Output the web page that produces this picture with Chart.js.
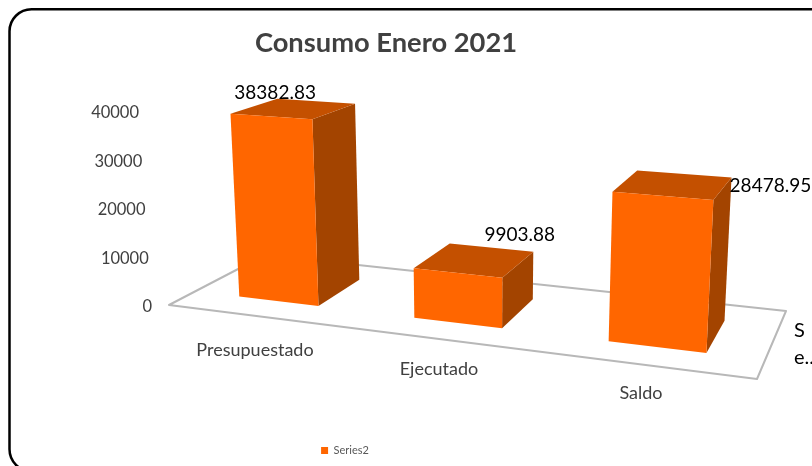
<!DOCTYPE html>
<html>
<head>
<meta charset="utf-8">
<script src="https://cdn.jsdelivr.net/npm/chart.js@4"></script>
<style>
    html, body { margin: 0; padding: 0; background: #fff; overflow: hidden; }
    #box { position: relative; width: 812px; height: 466px; }
</style>
</head>
<body>
<div id="box"><canvas id="chart"></canvas></div>
<script>
const categories = ['Presupuestado', 'Ejecutado', 'Saldo'];
const values = [38382.83, 9903.88, 28478.95];
const seriesName = 'Series2';
const yTicks = [0, 10000, 20000, 30000, 40000];
const depthLabel = ['S', 'e..'];

// Floor corners as seen in the picture, and depth range of the bars on it
const floor = { fl: [169, 305], fr: [757, 379], br: [786, 311], bl: [265, 255] };
const barDepth = [0.25, 0.74];

// Perspective mapping of the floor (unit square to quad)
function floorMap(u, d) {
    const { fl, fr, br, bl } = floor;
    const dx1 = fr[0] - br[0], dx2 = bl[0] - br[0], sx = fl[0] - fr[0] + br[0] - bl[0];
    const dy1 = fr[1] - br[1], dy2 = bl[1] - br[1], sy = fl[1] - fr[1] + br[1] - bl[1];
    const det = dx1 * dy2 - dx2 * dy1;
    const g = (sx * dy2 - dx2 * sy) / det;
    const h = (dx1 * sy - sx * dy1) / det;
    const w = g * u + h * d + 1;
    return [
        ((fr[0] - fl[0] + g * fr[0]) * u + (bl[0] - fl[0] + h * bl[0]) * d + fl[0]) / w,
        ((fr[1] - fl[1] + g * fr[1]) * u + (bl[1] - fl[1] + h * bl[1]) * d + fl[1]) / w
    ];
}

// Point at floor position (u, d), raised by h pixels of the value axis
function project(u, d, h) {
    const [fx, fy] = floorMap(u, d);
    const s = 1 + (fy - 305) * 0.0022;
    return [fx + (fx - 480) * h * s * 0.0002, fy - h * s];
}

function poly(ctx, pts, color) {
    ctx.beginPath();
    pts.forEach((p, i) => i ? ctx.lineTo(p[0], p[1]) : ctx.moveTo(p[0], p[1]));
    ctx.closePath();
    ctx.fillStyle = color;
    ctx.fill();
}

const valueShift = [[-19, -16], [45, -25], [97, 1]];
const categorySpot = [[255, 350], [439, 369], [641, 393]];

const bars3d = {
    id: 'bars3d',
    afterLayout(chart) {
        // legend sits left of the plot centre
        chart.legend.left -= 41;
        chart.legend.right -= 41;
    },
    beforeDraw(chart) {
        const ctx = chart.ctx;
        ctx.save();
        ctx.lineWidth = 2.5;
        ctx.strokeStyle = '#000';
        ctx.beginPath();
        ctx.roundRect(9.5, 9.3, 840, 462, 22);
        ctx.stroke();
        ctx.restore();
    },
    beforeDatasetsDraw(chart) {
        const ctx = chart.ctx;
        const area = chart.chartArea;
        const yScale = chart.scales.y;
        const zero = yScale.getPixelForValue(0);
        const { fl, fr, br, bl } = floor;

        ctx.save();
        ctx.strokeStyle = '#b8b8b8';
        ctx.lineWidth = 2;
        ctx.lineJoin = 'round';
        ctx.beginPath();
        ctx.moveTo(bl[0], bl[1]);
        ctx.lineTo(fl[0], fl[1]);
        ctx.lineTo(fr[0], fr[1]);
        ctx.lineTo(br[0], br[1]);
        ctx.lineTo(bl[0], bl[1]);
        ctx.stroke();

        ctx.textAlign = 'center';
        ctx.textBaseline = 'middle';
        const bars = chart.getDatasetMeta(0).data;
        bars.forEach((bar, i) => {
            const u0 = (bar.x - bar.width / 2 - area.left) / area.width;
            const u1 = (bar.x + bar.width / 2 - area.left) / area.width;
            const h = zero - bar.y;
            const [d0, d1] = barDepth;
            poly(ctx, [project(u1, d0, 0), project(u1, d1, 0), project(u1, d1, h), project(u1, d0, h)], '#a34400');
            poly(ctx, [project(u0, d0, h), project(u1, d0, h), project(u1, d1, h), project(u0, d1, h)], '#c45000');
            poly(ctx, [project(u0, d0, 0), project(u1, d0, 0), project(u1, d0, h), project(u0, d0, h)], '#ff6600');

            const mid = project((u0 + u1) / 2, (d0 + d1) / 2, h);
            ctx.fillStyle = '#000';
            ctx.font = '19px Lato';
            ctx.fillText(String(values[i]), mid[0] + valueShift[i][0], mid[1] + valueShift[i][1]);

            ctx.fillStyle = '#404040';
            ctx.font = '18px Lato';
            ctx.fillText(categories[i], categorySpot[i][0], categorySpot[i][1]);
        });

        // value axis labels follow the slant of the wall
        ctx.textAlign = 'right';
        ctx.fillStyle = '#404040';
        ctx.font = '16.5px Lato';
        yTicks.forEach(v => {
            const y = yScale.getPixelForValue(v);
            const edge = v === 0 ? 152 : 152 - (zero - y) * 0.067;
            ctx.fillText(String(v), edge, y);
        });

        ctx.fillStyle = '#000';
        ctx.font = '20px Lato';
        ctx.textAlign = 'left';
        ctx.fillText(depthLabel[0], 794, 331);
        ctx.fillText(depthLabel[1], 794, 358);
        ctx.restore();
        return false;
    }
};

new Chart(document.getElementById('chart'), {
    type: 'bar',
    data: {
        labels: categories,
        datasets: [{
            label: seriesName,
            data: values,
            backgroundColor: '#ff6600',
            barPercentage: 0.465,
            categoryPercentage: 1
        }]
    },
    options: {
        responsive: true,
        maintainAspectRatio: false,
        animation: false,
        layout: { padding: { top: 27, bottom: 0, right: 40 } },
        plugins: {
            title: {
                display: true,
                text: 'Consumo Enero 2021',
                color: '#404040',
                font: { family: 'Lato', size: 27.3, weight: 'bold' },
                padding: { top: 0, bottom: 53 }
            },
            legend: {
                display: true,
                position: 'bottom',
                labels: {
                    color: '#595959',
                    font: { family: 'Lato', size: 11 },
                    boxWidth: 7,
                    boxHeight: 7,
                    padding: 1
                }
            },
            tooltip: { enabled: false }
        },
        scales: {
            x: {
                display: true,
                grid: { display: false },
                border: { display: false },
                ticks: { display: false },
                afterFit: axis => { axis.height = 137; }
            },
            y: {
                min: 0,
                max: 40000,
                afterBuildTicks: axis => { axis.ticks = yTicks.map(v => ({ value: v })); },
                afterFit: axis => { axis.width = 160; },
                grid: { display: false },
                border: { display: false },
                ticks: { display: false }
            }
        }
    },
    plugins: [bars3d]
});
</script>
</body>
</html>
